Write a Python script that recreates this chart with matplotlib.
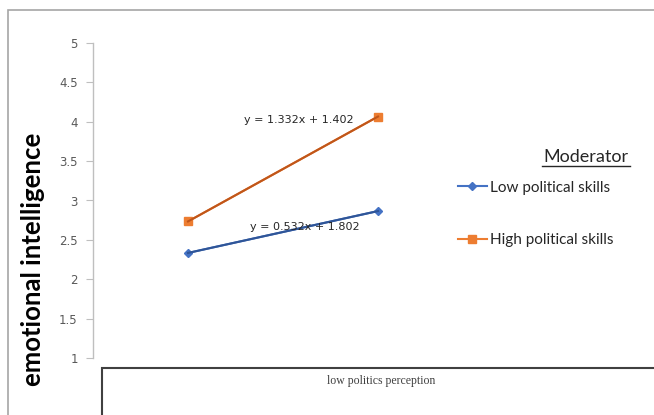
import matplotlib
matplotlib.use("Agg")
import matplotlib.pyplot as plt
import matplotlib.patches as patches
from matplotlib.lines import Line2D
import numpy as np

# data (x = 1 low, 2 high politics perception)
x_pos = [1, 2]
low_skills = [2.334, 2.866]
high_skills = [2.734, 4.066]
series_names = ["Low political skills", "High political skills"]
y_ticks = [1, 1.5, 2, 2.5, 3, 3.5, 4, 4.5, 5]
x_caption = "low politics perception"

W, H = 654, 415
fig = plt.figure(figsize=(W / 100, H / 100), dpi=100)

# plot area in pixel units
left, right, bottom, top = 93, 473, 358, 43
ax = fig.add_axes([left / W, 1 - bottom / H, (right - left) / W, (bottom - top) / H])
ax.set_xlim(0.5, 2.5)
ax.set_ylim(1, 5)
ax.patch.set_alpha(0)

for s in ["top", "right", "bottom"]:
    ax.spines[s].set_visible(False)
ax.spines["left"].set_color("#bfbfbf")
ax.spines["left"].set_linewidth(1)
ax.set_xticks([])
ax.set_yticks(y_ticks)
ax.set_yticklabels([f"{t:g}" for t in y_ticks])
ax.tick_params(axis="y", length=5, color="#bfbfbf", labelcolor="#595959",
               labelsize=8.5, pad=6)

light = {"low": "#4472c4", "high": "#ed7d31"}
dark = {"low": "#2f5597", "high": "#c0561a"}

h_low, = ax.plot(x_pos, low_skills, color=light["low"], lw=1.5, marker="D",
                 ms=4.5, label=series_names[0], zorder=3)
h_high, = ax.plot(x_pos, high_skills, color=light["high"], lw=1.5, marker="s",
                  ms=6, label=series_names[1], zorder=3)

# linear trendlines with equations
eq_pos = {"low": (1.613, 2.66), "high": (1.581, 4.02)}
for key, vals in [("low", low_skills), ("high", high_skills)]:
    m, b = np.polyfit(x_pos, vals, 1)
    xs = np.array(x_pos)
    ax.plot(xs, m * xs + b, color=dark[key], lw=1.5, zorder=4)
    xt, yt = eq_pos[key]
    ax.text(xt, yt, f"y = {m:.3f}x + {b:.3f}", fontsize=8, color="#262626",
            ha="center", va="center", zorder=5)

# legend
fig.text(586 / W, 1 - 157 / H, "Moderator", fontsize=13, color="#262626",
         ha="center", va="center", fontfamily="Lato")
fig.add_artist(Line2D([542 / W, 630 / W], [1 - 166 / H] * 2, color="#262626", lw=1))
leg = fig.legend(handles=[h_low, h_high], loc="center left",
                 bbox_to_anchor=(444 / W, 1 - 214 / H), frameon=False,
                 handlelength=1.9, handletextpad=0.2,
                 labelspacing=2.55, prop={"family": "Lato", "size": 11})
for t in leg.get_texts():
    t.set_color("#262626")

# y label
fig.text(33 / W, 1 - 259 / H, "emotional intelligence", rotation=90,
         fontsize=18.5, fontweight="bold", fontfamily="Lato",
         ha="center", va="center", color="black")

# outer chart border
fig.add_artist(patches.Rectangle((8 / W, -0.1), 1.2, 1 - 10 / H + 0.1,
                                 transform=fig.transFigure, fill=False,
                                 edgecolor="#a6a6a6", lw=1.2))
# category box
fig.add_artist(patches.Rectangle((102 / W, -0.1), 1.2, 1 - 368 / H + 0.1,
                                 transform=fig.transFigure, fill=False,
                                 edgecolor="#404040", lw=1.5))
fig.text(381 / W, 1 - 381 / H, x_caption, fontsize=8.5, color="#404040",
         ha="center", va="center", fontfamily="Liberation Serif")

fig.savefig("out.png", dpi=100)
